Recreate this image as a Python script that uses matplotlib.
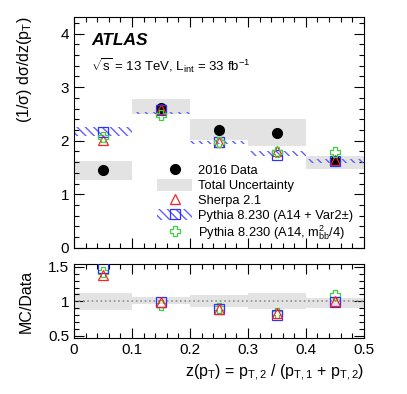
import matplotlib
matplotlib.use("Agg")
import matplotlib.pyplot as plt
import numpy as np
from matplotlib.patches import Patch
from matplotlib.lines import Line2D
from matplotlib.path import Path
from matplotlib.ticker import MultipleLocator, FixedFormatter, FixedLocator

plt.rcParams['font.family'] = ['Liberation Sans', 'DejaVu Sans']
plt.rcParams['mathtext.fontset'] = 'custom'
plt.rcParams['mathtext.rm'] = 'Liberation Sans'
plt.rcParams['mathtext.it'] = 'Liberation Sans:italic'
plt.rcParams['hatch.linewidth'] = 1.0

# bins in z(pT)
bin_lo = [0.0, 0.1, 0.2, 0.3, 0.4]
bin_hi = [0.1, 0.2, 0.3, 0.4, 0.5]
bin_mid = [0.05, 0.15, 0.25, 0.35, 0.45]

data = [1.46, 2.61, 2.20, 2.15, 1.63]
data_lo = [1.27, 2.50, 2.02, 1.90, 1.47]
data_hi = [1.63, 2.77, 2.40, 2.41, 1.72]

sherpa = [2.02, 2.60, 1.97, 1.80, 1.64]
pythia_var2 = [2.17, 2.58, 1.97, 1.74, 1.62]
pythia_var2_lo = [2.09, 2.49, 1.93, 1.71, 1.59]
pythia_var2_hi = [2.25, 2.54, 2.00, 1.80, 1.66]
pythia_mbb = [2.07, 2.48, 1.98, 1.78, 1.79]

# open cross marker (ROOT style 28)
a, b = 1.0, 0.38
cross_verts = [(-b, a), (b, a), (b, b), (a, b), (a, -b), (b, -b), (b, -a),
               (-b, -a), (-b, -b), (-a, -b), (-a, b), (-b, b), (-b, a)]
cross_marker = Path(cross_verts, closed=True)

red = '#ff2020'
blue = '#3030ff'
green = '#40d040'
hatch_col = '#6060ff'
grey = '#e3e3e3'
ms = 6.5

fig = plt.figure(figsize=(4.07, 3.94), dpi=100)
ax = fig.add_axes([0.182, 0.371, 0.712, 0.586])
axr = fig.add_axes([0.182, 0.142, 0.712, 0.188])

for i in range(len(bin_mid)):
    ax.fill_between([bin_lo[i], bin_hi[i]], data_lo[i], data_hi[i],
                    color=grey, lw=0, zorder=1)
    ax.fill_between([bin_lo[i], bin_hi[i]], pythia_var2_lo[i], pythia_var2_hi[i],
                    facecolor='none', edgecolor=hatch_col, hatch='\\\\\\\\',
                    lw=0, zorder=2)

ax.plot(bin_mid, data, 'o', color='black', ms=7, zorder=5)
ax.plot(bin_mid, sherpa, '^', mfc='none', mec=red, ms=ms, mew=0.9, zorder=6)
ax.plot(bin_mid, pythia_var2, 's', mfc='none', mec=blue, ms=ms, mew=0.9, zorder=6)
ax.plot(bin_mid, pythia_mbb, marker=cross_marker, ls='none', mfc='none',
        mec=green, ms=ms, mew=0.9, zorder=6)

ax.set_xlim(0, 0.5)
ax.set_ylim(0, 4.31)

# ratio panel
data_arr = np.array(data)
for i in range(len(bin_mid)):
    axr.fill_between([bin_lo[i], bin_hi[i]], data_lo[i] / data[i], data_hi[i] / data[i],
                     color=grey, lw=0, zorder=1)
axr.axhline(1.0, color='#909090', ls=':', lw=1.2, zorder=2)
axr.plot(bin_mid, np.array(sherpa) / data_arr, '^', mfc='none', mec=red, ms=ms, mew=0.9, zorder=6)
axr.plot(bin_mid, np.array(pythia_var2) / data_arr, 's', mfc='none', mec=blue, ms=ms, mew=0.9, zorder=5)
axr.plot(bin_mid, np.array(pythia_mbb) / data_arr, marker=cross_marker, ls='none',
         mfc='none', mec=green, ms=ms, mew=0.9, zorder=4)
axr.set_xlim(0, 0.5)
axr.set_ylim(0.47, 1.54)

for a_ in (ax, axr):
    a_.tick_params(which='both', direction='in', top=True, right=True, labelsize=11)
    a_.tick_params(which='major', length=7, width=0.8)
    a_.tick_params(which='minor', length=3.5, width=0.8)
    a_.xaxis.set_major_locator(MultipleLocator(0.1))
    a_.xaxis.set_minor_locator(MultipleLocator(0.02))
    for s in a_.spines.values():
        s.set_linewidth(0.8)

ax.yaxis.set_major_locator(MultipleLocator(1))
ax.yaxis.set_minor_locator(MultipleLocator(0.2))
ax.set_xticklabels([])
axr.yaxis.set_major_locator(FixedLocator([0.5, 1.0, 1.5]))
axr.yaxis.set_major_formatter(FixedFormatter(['0.5', '1', '1.5']))
axr.yaxis.set_minor_locator(MultipleLocator(0.1))
axr.set_xticks([0, 0.1, 0.2, 0.3, 0.4, 0.5])
axr.set_xticklabels(['0', '0.1', '0.2', '0.3', '0.4', '0.5'])

ax.set_ylabel(r'(1/σ) dσ/dz(p$_{\rm T}$)', fontsize=11.5, loc='top')
axr.set_ylabel('MC/Data', fontsize=11.5)
axr.set_xlabel(r'z(p$_{\rm T}$) = p$_{\rm T,2}$ / (p$_{\rm T,1}$ + p$_{\rm T,2}$)',
               fontsize=11.5, loc='right')
ax.yaxis.set_label_coords(-0.14, 1.0)
axr.yaxis.set_label_coords(-0.14, 0.5)

ax.text(0.06, 0.88, 'ATLAS', transform=ax.transAxes, fontsize=12.5,
        fontweight='bold', fontstyle='italic')
ax.text(0.06, 0.765, r'$\sqrt{\rm s}$ = 13 TeV, L$_{\rm int}$ = 33 fb$^{-1}$',
        transform=ax.transAxes, fontsize=9.5)

handles = [
    Line2D([], [], marker='o', ls='none', color='black', ms=7),
    Patch(facecolor=grey, edgecolor='none'),
    Line2D([], [], marker='^', ls='none', mfc='none', mec=red, ms=ms, mew=0.9),
    (Patch(facecolor='none', edgecolor=hatch_col, hatch='\\\\\\\\', lw=0),
     Line2D([], [], marker='s', ls='none', mfc='none', mec=blue, ms=ms, mew=0.9)),
    Line2D([], [], marker=cross_marker, ls='none', mfc='none', mec=green, ms=ms, mew=0.9),
]
labels = ['2016 Data', 'Total Uncertainty', 'Sherpa 2.1',
          'Pythia 8.230 (A14 + Var2±)', r'Pythia 8.230 (A14, m$^2_{\rm bb}$/4)']
leg = ax.legend(handles, labels, loc='upper left', bbox_to_anchor=(0.265, 0.39),
                frameon=False, fontsize=9.3, handlelength=2.7, handleheight=1.0,
                labelspacing=0.12, handletextpad=0.45, borderpad=0)

fig.savefig('out.png', dpi=100)
